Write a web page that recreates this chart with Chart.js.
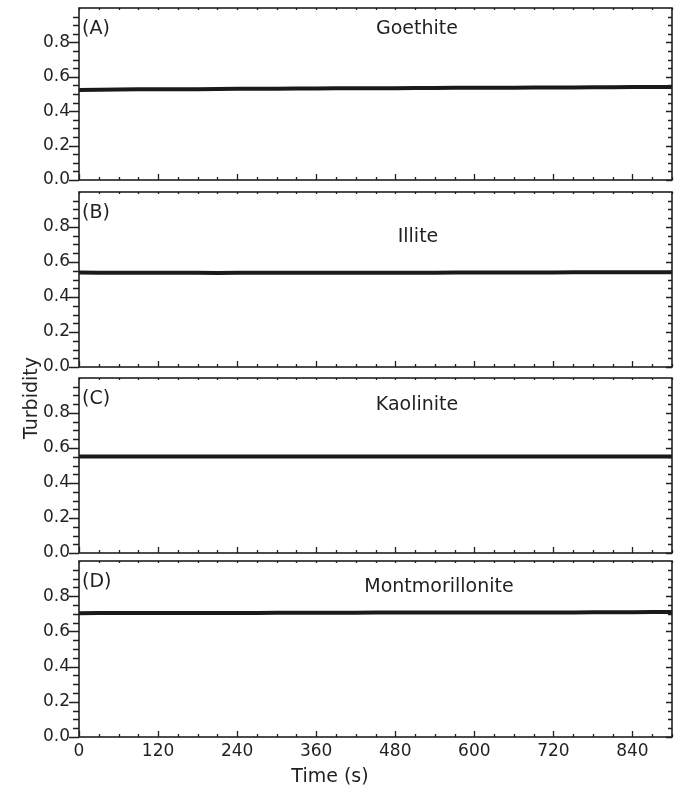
<!DOCTYPE html>
<html>
<head>
<meta charset="utf-8">
<script src="https://cdn.jsdelivr.net/npm/chart.js@4.4.1/dist/chart.umd.min.js"></script>
<style>
  body { margin: 0; background: #fff; }
  #wrap { position: relative; width: 678px; height: 795px; font-family: "DejaVu Sans", sans-serif; color: #231f20; }
  canvas { position: absolute; left: 0; }
  .ytitle { position: absolute; left: 30px; top: 398px; transform: translate(-50%, -50%) rotate(-90deg); font-size: 19px; white-space: nowrap; }
  .xtitle { position: absolute; left: 330px; top: 775px; transform: translate(-50%, -50%); font-size: 19px; white-space: nowrap; }
</style>
</head>
<body>
<div id="wrap">
  <canvas id="c0"></canvas>
  <canvas id="c1"></canvas>
  <canvas id="c2"></canvas>
  <canvas id="c3"></canvas>
  <div class="ytitle">Turbidity</div>
  <div class="xtitle">Time (s)</div>
</div>
<script>
// time axis, s
const times = [0, 30, 60, 90, 120, 150, 180, 210, 240, 270, 300, 330, 360, 390, 420, 450,
               480, 510, 540, 570, 600, 630, 660, 690, 720, 750, 780, 810, 840, 870, 900];
const xTicks = [0, 120, 240, 360, 480, 600, 720, 840];
const yTicks = [0, 0.2, 0.4, 0.6, 0.8];

const mineralNames = ['Goethite', 'Illite', 'Kaolinite', 'Montmorillonite'];
const panelLetters = ['(A)', '(B)', '(C)', '(D)'];

const goethite = [0.523, 0.525, 0.526, 0.527, 0.527, 0.528, 0.528, 0.529, 0.530, 0.530, 0.531,
                  0.532, 0.532, 0.533, 0.533, 0.534, 0.534, 0.535, 0.535, 0.536, 0.536, 0.537,
                  0.537, 0.538, 0.538, 0.538, 0.539, 0.539, 0.540, 0.540, 0.541];
const illite = [0.540, 0.539, 0.539, 0.538, 0.538, 0.538, 0.538, 0.537, 0.538, 0.538, 0.538,
                0.538, 0.538, 0.539, 0.539, 0.539, 0.539, 0.539, 0.539, 0.540, 0.540, 0.540,
                0.540, 0.540, 0.540, 0.541, 0.541, 0.541, 0.541, 0.541, 0.541];
const kaolinite = [0.552, 0.552, 0.552, 0.552, 0.552, 0.552, 0.552, 0.552, 0.552, 0.552, 0.552,
                   0.552, 0.551, 0.551, 0.551, 0.551, 0.551, 0.551, 0.551, 0.551, 0.551, 0.551,
                   0.551, 0.551, 0.551, 0.551, 0.551, 0.551, 0.551, 0.551, 0.551];
const montmorillonite = [0.703, 0.704, 0.704, 0.704, 0.705, 0.705, 0.705, 0.705, 0.705, 0.705, 0.706,
                         0.706, 0.706, 0.706, 0.706, 0.707, 0.707, 0.707, 0.707, 0.707, 0.707, 0.708,
                         0.708, 0.708, 0.708, 0.708, 0.709, 0.709, 0.709, 0.710, 0.710];
const seriesValues = [goethite, illite, kaolinite, montmorillonite];

const ink = '#231f20';
const W = 678;
const fontFamily = '"DejaVu Sans", sans-serif';

// plot frame for each panel (pixels), plus label placement
const panels = [
  { top: 8,   bottom: 180, nameX: 417, nameDy: 21 },
  { top: 192, bottom: 367, nameX: 418, nameDy: 45 },
  { top: 378, bottom: 553, nameX: 417, nameDy: 27 },
  { top: 561, bottom: 737, nameX: 439, nameDy: 26 }
];

const frameTicks = {
  id: 'frameTicks',
  afterDraw(chart) {
    const { ctx, chartArea: a, scales: { x, y } } = chart;
    const opts = chart.options.plugins.frameTicks;
    ctx.save();
    ctx.strokeStyle = ink;
    ctx.lineWidth = 1.6;
    ctx.strokeRect(a.left, a.top, a.right - a.left, a.bottom - a.top);
    ctx.lineWidth = 1.3;
    ctx.beginPath();
    for (let i = 0; i <= 19; i++) {
      const py = Math.round(y.getPixelForValue(i * 0.05)) + 0.5;
      const major = i % 4 === 0;
      ctx.moveTo(a.left - (major ? 10 : 6), py);
      ctx.lineTo(a.left, py);
      ctx.moveTo(a.right, py);
      ctx.lineTo(a.right - (major ? 6 : 4), py);
    }
    for (let t = 0; t <= 900; t += 30) {
      const px = Math.round(x.getPixelForValue(t)) + 0.5;
      const major = t % 120 === 0;
      ctx.moveTo(px, a.bottom);
      ctx.lineTo(px, a.bottom - (major ? 6 : 3));
      ctx.moveTo(px, a.top);
      ctx.lineTo(px, a.top + 2);
    }
    ctx.stroke();
    ctx.fillStyle = ink;
    ctx.font = '19px ' + fontFamily;
    ctx.textBaseline = 'middle';
    ctx.textAlign = 'left';
    ctx.fillText(opts.letter, a.left + 3, a.top + 21);
    ctx.textAlign = 'center';
    ctx.fillText(opts.name, opts.nameX, a.top + opts.nameDy);
    ctx.restore();
  }
};

panels.forEach((p, i) => {
  const last = i === panels.length - 1;
  const padTop = 6;
  const xHeight = last ? 30 : 6;
  const canvas = document.getElementById('c' + i);
  canvas.width = W;
  canvas.height = (p.bottom - p.top) + padTop + xHeight;
  canvas.style.top = (p.top - padTop) + 'px';

  new Chart(canvas, {
    type: 'line',
    data: {
      labels: times,
      datasets: [{
        label: mineralNames[i],
        data: times.map((t, k) => ({ x: t, y: seriesValues[i][k] })),
        borderColor: '#1a1a1a',
        borderWidth: 4,
        pointRadius: 0,
        tension: 0
      }]
    },
    options: {
      responsive: false,
      animation: false,
      devicePixelRatio: 1,
      layout: { padding: { top: padTop, right: 6, left: 0, bottom: 0 } },
      plugins: {
        legend: { display: false },
        tooltip: { enabled: false },
        frameTicks: { letter: panelLetters[i], name: mineralNames[i], nameX: p.nameX, nameDy: p.nameDy }
      },
      scales: {
        x: {
          type: 'linear',
          min: 0,
          max: 900,
          grid: { display: false, drawTicks: false },
          border: { display: false },
          afterBuildTicks: s => { s.ticks = xTicks.map(v => ({ value: v })); },
          afterFit: s => { s.height = xHeight; s.paddingLeft = 0; s.paddingRight = 0; },
          ticks: {
            display: last,
            padding: 4,
            color: ink,
            maxRotation: 0,
            font: { family: fontFamily, size: 17 }
          }
        },
        y: {
          min: 0,
          max: 1,
          grid: { display: false, drawTicks: false },
          border: { display: false },
          afterBuildTicks: s => { s.ticks = yTicks.map(v => ({ value: v })); },
          afterFit: s => { s.width = 79; s.paddingTop = 0; s.paddingBottom = 0; },
          ticks: {
            padding: 9,
            color: ink,
            callback: v => v.toFixed(1),
            font: { family: fontFamily, size: 17 }
          }
        }
      }
    },
    plugins: [frameTicks]
  });
});
</script>
</body>
</html>
